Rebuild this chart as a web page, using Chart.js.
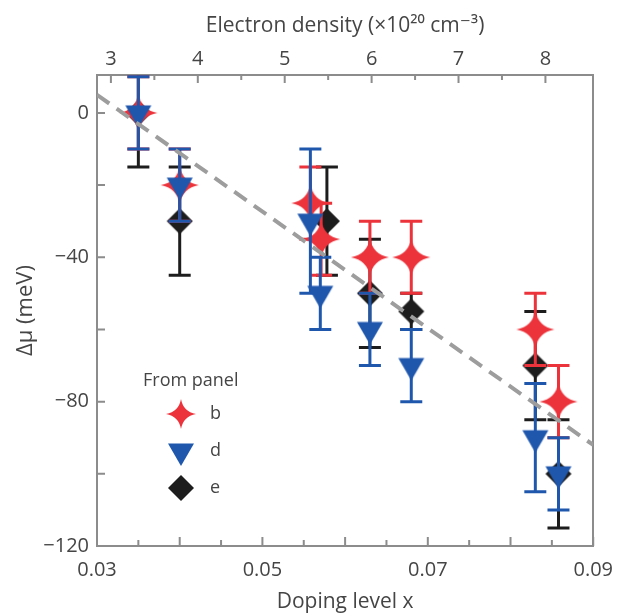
<!DOCTYPE html>
<html>
  <head>
    <title>Chemical potential shift vs doping</title>
    <script src="https://cdn.jsdelivr.net/npm/chart.js"></script>
    <style>
      body {
        margin: 0;
        background: #fff;
      }

      .container {
        position: relative;
        width: 625px;
        height: 615px;
      }
    </style>
  </head>
  <body>
    <div class="container">
      <canvas id="shiftChart"></canvas>
    </div>
    <script>
      // panel b (red stars)
      const dopingB = [0.035, 0.04, 0.0558, 0.0571, 0.063, 0.068, 0.083, 0.0858];
      const muB = [0, -20, -25, -35, -40, -40, -60, -80];
      const errB = [10, 10, 10, 10, 10, 10, 10, 10];

      // panel d (blue triangles)
      const dopingD = [0.035, 0.04, 0.0558, 0.057, 0.063, 0.068, 0.083, 0.0858];
      const muD = [0, -20, -30, -50, -60, -70, -90, -100];
      const errD = [10, 10, 20, 10, 10, 10, 15, 10];

      // panel e (black diamonds)
      const dopingE = [0.035, 0.04, 0.0578, 0.063, 0.068, 0.083, 0.0858];
      const muE = [0, -30, -30, -50, -55, -70, -100];
      const errE = [15, 15, 15, 15, 5, 15, 15];

      // dashed guide line
      const fitX = [0.03, 0.09];
      const fitY = [5, -92];

      // ticks
      const dopingTicks = [0.03, 0.035, 0.04, 0.045, 0.05, 0.055, 0.06, 0.065, 0.07, 0.075, 0.08, 0.085, 0.09];
      const dopingLabels = [0.03, 0.05, 0.07, 0.09];
      const densityTicks = [3, 3.5, 4, 4.5, 5, 5.5, 6, 6.5, 7, 7.5, 8];
      const densityLabels = [3, 4, 5, 6, 7, 8];
      const muTicks = [-120, -100, -80, -60, -40, -20, 0];
      const muLabels = [-120, -80, -40, 0];

      const family = '"Open Sans", "DejaVu Sans", sans-serif';
      const textColor = "#454545";
      const axisColor = "#8c8c8c";
      const red = "#ec323a";
      const blue = "#1f57ad";
      const black = "#1d1d1d";

      function makeMarker(size, color, path) {
        const c = document.createElement("canvas");
        c.width = size;
        c.height = size;
        const g = c.getContext("2d");
        g.translate(size / 2, size / 2);
        g.beginPath();
        path(g);
        g.closePath();
        g.fillStyle = color;
        g.fill();
        return c;
      }

      function star(r) {
        return function (g) {
          const c = r * 0.15;
          g.moveTo(0, -r);
          g.quadraticCurveTo(c, -c, r, 0);
          g.quadraticCurveTo(c, c, 0, r);
          g.quadraticCurveTo(-c, c, -r, 0);
          g.quadraticCurveTo(-c, -c, 0, -r);
        };
      }

      function triangleDown(r) {
        return function (g) {
          const h = (r * Math.sqrt(3)) / 2;
          g.moveTo(-h, -r / 2);
          g.lineTo(h, -r / 2);
          g.lineTo(0, r);
        };
      }

      function diamond(r) {
        return function (g) {
          g.moveTo(0, -r);
          g.lineTo(r, 0);
          g.lineTo(0, r);
          g.lineTo(-r, 0);
        };
      }

      function points(xs, ys) {
        return xs.map(function (x, i) {
          return { x: x, y: ys[i] };
        });
      }

      function hasValue(list, v) {
        return list.some(function (l) {
          return Math.abs(l - v) < 1e-9;
        });
      }

      const errorBars = {
        id: "errorBars",
        beforeDatasetDraw(chart, args) {
          const ds = chart.data.datasets[args.index];
          if (!ds.errors) return;
          const ctx = chart.ctx;
          const a = chart.chartArea;
          const sx = chart.scales.x;
          const sy = chart.scales.y;
          const cap = 11;
          ctx.save();
          ctx.beginPath();
          ctx.rect(a.left, a.top, a.right - a.left, a.bottom - a.top);
          ctx.clip();
          ctx.strokeStyle = ds.barColor;
          ctx.lineWidth = 3;
          ds.data.forEach(function (p, i) {
            const x = sx.getPixelForValue(p.x);
            const top = sy.getPixelForValue(p.y + ds.errors[i]);
            const bottom = sy.getPixelForValue(p.y - ds.errors[i]);
            ctx.beginPath();
            ctx.moveTo(x, top);
            ctx.lineTo(x, bottom);
            ctx.moveTo(x - cap, top);
            ctx.lineTo(x + cap, top);
            ctx.moveTo(x - cap, bottom);
            ctx.lineTo(x + cap, bottom);
            ctx.stroke();
          });
          ctx.restore();
        },
      };

      // tick marks pointing into the plot
      const innerTicks = {
        id: "innerTicks",
        beforeDatasetsDraw(chart) {
          const ctx = chart.ctx;
          const a = chart.chartArea;
          const s = chart.scales;
          ctx.save();
          ctx.strokeStyle = axisColor;
          ctx.lineWidth = 2;
          ctx.beginPath();
          s.x.ticks.forEach(function (t) {
            const px = s.x.getPixelForValue(t.value);
            const major = Math.abs(t.value * 100 - Math.round(t.value * 100)) < 1e-6;
            ctx.moveTo(px, a.bottom);
            ctx.lineTo(px, a.bottom - (major ? 9 : 6));
          });
          s.x2.ticks.forEach(function (t) {
            const px = s.x2.getPixelForValue(t.value);
            const major = Number.isInteger(t.value);
            ctx.moveTo(px, a.top);
            ctx.lineTo(px, a.top + (major ? 8 : 5));
          });
          s.y.ticks.forEach(function (t) {
            const py = s.y.getPixelForValue(t.value);
            ctx.moveTo(a.left, py);
            ctx.lineTo(a.left + 8, py);
          });
          ctx.stroke();
          ctx.restore();
        },
      };

      const panelLegend = {
        id: "panelLegend",
        afterDraw(chart) {
          const ctx = chart.ctx;
          const a = chart.chartArea;
          const y0 = a.bottom - 165;
          ctx.save();
          ctx.font = "18px " + family;
          ctx.fillStyle = textColor;
          ctx.textBaseline = "middle";
          ctx.fillText("From panel", a.left + 46, y0);
          chart.data.datasets
            .filter(function (d) {
              return d.legendMarker;
            })
            .forEach(function (d, i) {
              const y = y0 + 33 + i * 37;
              const m = d.legendMarker;
              ctx.drawImage(m, a.left + 84 - m.width / 2, y - m.height / 2);
              ctx.fillText(d.label, a.left + 113, y);
            });
          ctx.restore();
        },
      };

      const tickFont = { family: family, size: 20 };
      const titleFont = { family: family, size: 21 };

      const config = {
        type: "scatter",
        data: {
          datasets: [
            {
              label: "b",
              data: points(dopingB, muB),
              errors: errB,
              barColor: red,
              pointStyle: makeMarker(40, red, star(19)),
              legendMarker: makeMarker(34, red, star(15)),
              order: 2,
            },
            {
              label: "d",
              data: points(dopingD, muD),
              errors: errD,
              barColor: blue,
              pointStyle: makeMarker(34, blue, triangleDown(15)),
              legendMarker: makeMarker(34, blue, triangleDown(15)),
              order: 1,
            },
            {
              label: "e",
              data: points(dopingE, muE),
              errors: errE,
              barColor: black,
              pointStyle: makeMarker(30, black, diamond(13)),
              legendMarker: makeMarker(30, black, diamond(13)),
              order: 3,
            },
            {
              label: "guide",
              type: "line",
              data: points(fitX, fitY),
              borderColor: "#9d9d9d",
              borderWidth: 4,
              borderDash: [15, 9],
              pointRadius: 0,
              order: 0,
            },
          ],
        },
        options: {
          responsive: true,
          maintainAspectRatio: false,
          animation: false,
          layout: { padding: 0 },
          plugins: {
            legend: { display: false },
            tooltip: { enabled: false },
          },
          scales: {
            x: {
              type: "linear",
              position: "bottom",
              min: 0.03,
              max: 0.09,
              afterBuildTicks: function (s) {
                s.ticks = dopingTicks.map(function (v) {
                  return { value: v };
                });
              },
              afterFit: function (s) {
                s.height = 69;
              },
              ticks: {
                autoSkip: false,
                maxRotation: 0,
                padding: 12,
                color: textColor,
                font: tickFont,
                callback: function (v) {
                  return hasValue(dopingLabels, v) ? v.toFixed(2) : "";
                },
              },
              grid: { display: false, drawTicks: false },
              border: { display: true, color: axisColor, width: 2 },
              title: {
                display: true,
                text: "Doping level x",
                color: textColor,
                font: titleFont,
                padding: { top: 0, bottom: 0 },
              },
            },
            x2: {
              type: "linear",
              position: "top",
              min: 2.84,
              max: 8.55,
              afterBuildTicks: function (s) {
                s.ticks = densityTicks.map(function (v) {
                  return { value: v };
                });
              },
              afterFit: function (s) {
                s.height = 75;
              },
              ticks: {
                autoSkip: false,
                maxRotation: 0,
                padding: 4,
                color: textColor,
                font: tickFont,
                callback: function (v) {
                  return hasValue(densityLabels, v) ? String(v) : "";
                },
              },
              grid: { display: false, drawTicks: false },
              border: { display: true, color: axisColor, width: 2 },
              title: {
                display: true,
                text: "Electron density (×10²⁰ cm⁻³)",
                color: textColor,
                font: titleFont,
                padding: { top: 13, bottom: 0 },
              },
            },
            y: {
              type: "linear",
              position: "left",
              min: -120,
              max: 10.5,
              afterBuildTicks: function (s) {
                s.ticks = muTicks.map(function (v) {
                  return { value: v };
                });
              },
              afterFit: function (s) {
                s.width = 97;
              },
              ticks: {
                autoSkip: false,
                padding: 8,
                color: textColor,
                font: tickFont,
                callback: function (v) {
                  return hasValue(muLabels, v) ? String(v).replace("-", "−") : "";
                },
              },
              grid: { display: false, drawTicks: false },
              border: { display: true, color: axisColor, width: 2 },
              title: {
                display: true,
                text: "Δμ (meV)",
                color: textColor,
                font: { family: family, size: 22 },
                padding: { top: 13, bottom: 0 },
              },
            },
            yRight: {
              type: "linear",
              position: "right",
              afterFit: function (s) {
                s.width = 28;
              },
              ticks: { display: false },
              grid: { display: false, drawTicks: false },
              border: { display: true, color: axisColor, width: 2 },
            },
          },
        },
        plugins: [errorBars, innerTicks, panelLegend],
      };

      new Chart(document.getElementById("shiftChart"), config);
    </script>
  </body>
</html>
